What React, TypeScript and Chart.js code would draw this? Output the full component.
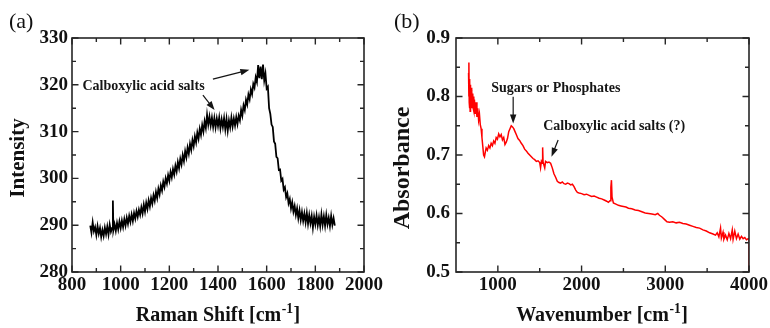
import React, { useEffect, useRef } from "react";
import { Chart, registerables } from "chart.js";

Chart.register(...registerables);

const FONT = "'Liberation Serif', 'Times New Roman', serif";

// ---------- Panel (a): Raman spectrum ----------
const ramanShift = [
  875, 880, 885, 890, 895, 900, 905, 910, 915, 920, 925, 930, 935, 940, 945, 950, 955, 960, 965, 968, 970, 975,
  980, 985, 990, 995, 1000, 1005, 1010, 1015, 1020, 1025, 1030, 1035, 1040, 1045, 1050, 1055, 1060, 1065, 1070,
  1075, 1080, 1085, 1090, 1095, 1100, 1105, 1110, 1115, 1120, 1125, 1130, 1135, 1140, 1145, 1150, 1155, 1160,
  1165, 1170, 1175, 1180, 1185, 1190, 1195, 1200, 1205, 1210, 1215, 1220, 1225, 1230, 1235, 1240, 1245, 1250,
  1255, 1260, 1265, 1270, 1275, 1280, 1285, 1290, 1295, 1300, 1305, 1310, 1315, 1320, 1325, 1330, 1335, 1340,
  1345, 1350, 1355, 1360, 1365, 1370, 1375, 1380, 1385, 1390, 1395, 1400, 1405, 1410, 1415, 1420, 1425, 1430,
  1435, 1440, 1445, 1450, 1455, 1460, 1465, 1470, 1475, 1480, 1485, 1490, 1495, 1500, 1505, 1510, 1515, 1520,
  1525, 1530, 1535, 1540, 1545, 1550, 1555, 1560, 1565, 1570, 1575, 1580, 1585, 1590, 1595, 1600, 1605, 1610,
  1615, 1620, 1625, 1630, 1635, 1640, 1645, 1650, 1655, 1660, 1665, 1670, 1675, 1680, 1685, 1690, 1695, 1700,
  1705, 1710, 1715, 1720, 1725, 1730, 1735, 1740, 1745, 1750, 1755, 1760, 1765, 1770, 1775, 1780, 1785, 1790,
  1795, 1800, 1805, 1810, 1815, 1820, 1825, 1830, 1835, 1840, 1845, 1850, 1855, 1860, 1865, 1870, 1875, 1880,
];
const intensity = [
  289.9, 288.4, 290.6, 288.7, 289.6, 287.9, 289.8, 288.2, 289.4, 287.5, 289.0, 287.7, 289.5, 288.1, 289.7, 288.0,
  290.1, 288.6, 289.4, 295.3, 288.9, 290.2, 288.8, 290.5, 289.1, 290.8, 289.4, 291.0, 289.6, 291.3, 289.9, 291.6,
  290.3, 292.0, 290.7, 292.3, 290.9, 292.6, 291.4, 293.0, 291.8, 293.3, 292.2, 293.8, 292.5, 294.4, 292.9, 294.8,
  293.5, 295.3, 294.0, 295.8, 294.6, 296.4, 295.2, 297.1, 295.8, 297.8, 296.6, 298.5, 297.4, 299.3, 298.2, 300.0,
  298.9, 300.7, 299.5, 301.4, 300.2, 302.0, 300.8, 302.7, 301.5, 303.5, 302.2, 304.2, 303.0, 305.0, 303.7, 305.8,
  304.5, 306.6, 305.3, 307.4, 306.1, 308.2, 306.9, 309.0, 307.7, 309.8, 308.5, 310.6, 309.3, 311.4, 310.0, 312.2,
  310.8, 313.6, 311.5, 313.2, 311.3, 313.0, 311.0, 312.9, 310.9, 312.8, 311.2, 313.0, 310.7, 312.6, 311.0, 312.9,
  310.5, 312.7, 310.2, 312.4, 310.9, 313.0, 311.1, 312.8, 311.3, 313.1, 311.6, 313.4, 312.4, 314.6, 313.4, 315.6,
  314.6, 316.8, 315.8, 317.9, 316.9, 319.0, 318.0, 320.2, 319.4, 321.6, 320.6, 324.2, 321.4, 323.9, 321.2, 324.3,
  320.9, 322.4, 319.2, 319.6, 315.0, 313.8, 311.5, 311.0, 307.9, 307.4, 304.6, 304.3, 301.8, 301.9, 299.5, 299.9,
  297.6, 298.1, 296.0, 296.8, 294.7, 295.6, 293.6, 294.9, 292.9, 294.1, 292.2, 293.6, 291.5, 293.2, 291.1, 292.8,
  290.9, 292.5, 290.6, 292.6, 290.3, 292.2, 290.4, 292.0, 289.5, 291.8, 290.2, 292.1, 290.0, 291.7, 289.8, 292.3,
  290.1, 291.9, 289.9, 292.2, 290.2, 291.6, 289.8, 292.0, 290.1, 291.5, 289.9,
];
const ramanXTicks = [800, 1000, 1200, 1400, 1600, 1800, 2000];
const ramanXMinor = [900, 1100, 1300, 1500, 1700, 1900];
const ramanYTicks = [280, 290, 300, 310, 320, 330];
const ramanYMinor = [285, 295, 305, 315, 325];
const ramanNote = { text: "Calboxylic acid salts", x: 1094, y: 318.9 };
const ramanArrows = [
  { from: [1379, 321.2], to: [1529, 323.2] },
  { from: [1338, 317.8], to: [1386, 314.6] },
];

// ---------- Panel (b): IR absorbance ----------
const wavenumber = [
  650, 653, 655, 658, 660, 663, 666, 669, 672, 675, 680, 685, 690, 695, 700, 705, 710, 715, 720, 730, 740, 750,
  760, 770, 780, 790, 800, 810, 820, 830, 840, 850, 860, 875, 890, 905, 920, 935, 950, 965, 980, 995, 1010, 1025,
  1040, 1055, 1070, 1085, 1100, 1115, 1130, 1145, 1160, 1175, 1190, 1205, 1220, 1240, 1260, 1280, 1300, 1320,
  1340, 1360, 1380, 1400, 1420, 1440, 1460, 1480, 1500, 1510, 1520, 1530, 1535, 1540, 1550, 1560, 1570, 1590,
  1610, 1630, 1650, 1670, 1690, 1710, 1730, 1750, 1770, 1790, 1810, 1830, 1850, 1870, 1890, 1910, 1930, 1950,
  1970, 2000, 2030, 2060, 2090, 2120, 2150, 2180, 2210, 2240, 2270, 2300, 2320, 2340, 2350, 2357, 2364, 2380,
  2410, 2440, 2470, 2500, 2530, 2560, 2600, 2640, 2680, 2720, 2760, 2800, 2840, 2880, 2910, 2930, 2960, 2990,
  3020, 3050, 3090, 3130, 3170, 3210, 3250, 3290, 3330, 3370, 3410, 3450, 3490, 3530, 3570, 3600, 3620, 3640,
  3660, 3670, 3690, 3700, 3720, 3740, 3760, 3780, 3800, 3810, 3830, 3850, 3870, 3890, 3910, 3930, 3950, 3970,
  3990, 4000, 4000,
];
const absorbance = [
  0.84, 0.8, 0.858, 0.79, 0.82, 0.78, 0.83, 0.775, 0.82, 0.79, 0.815, 0.78, 0.81, 0.785, 0.805, 0.78, 0.8, 0.775,
  0.795, 0.77, 0.79, 0.765, 0.78, 0.76, 0.77, 0.752, 0.745, 0.73, 0.715, 0.7, 0.697, 0.705, 0.712, 0.708, 0.716,
  0.712, 0.72, 0.716, 0.724, 0.72, 0.73, 0.727, 0.736, 0.731, 0.735, 0.726, 0.73, 0.718, 0.722, 0.728, 0.74,
  0.745, 0.75, 0.748, 0.745, 0.74, 0.735, 0.728, 0.725, 0.72, 0.716, 0.71, 0.707, 0.703, 0.7, 0.697, 0.694,
  0.692, 0.689, 0.69, 0.687, 0.678, 0.689, 0.686, 0.713, 0.688, 0.688, 0.678, 0.689, 0.687, 0.688, 0.686, 0.678,
  0.668, 0.662, 0.655, 0.653, 0.652, 0.654, 0.651, 0.65, 0.652, 0.651, 0.649, 0.65, 0.646, 0.64, 0.636, 0.635,
  0.634, 0.632, 0.633, 0.631, 0.629, 0.63, 0.628, 0.626, 0.625, 0.623, 0.621, 0.619, 0.622, 0.645, 0.657, 0.628,
  0.618, 0.616, 0.614, 0.613, 0.612, 0.611, 0.609, 0.608, 0.606, 0.605, 0.603, 0.601, 0.6, 0.599, 0.598, 0.6,
  0.597, 0.594, 0.59, 0.586, 0.585, 0.586, 0.584, 0.585, 0.583, 0.582, 0.58, 0.578, 0.576, 0.575, 0.572, 0.57,
  0.567, 0.565, 0.563, 0.567, 0.56, 0.575, 0.558, 0.568, 0.556, 0.563, 0.555, 0.566, 0.557, 0.572, 0.556, 0.57,
  0.557, 0.565, 0.556, 0.561, 0.557, 0.559, 0.555, 0.557, 0.556, 0.5,
];
const irXTicks = [1000, 2000, 3000, 4000];
const irXMinor = [1500, 2500, 3500];
const irYTicks = [0.5, 0.6, 0.7, 0.8, 0.9];
const irYMinor = [0.55, 0.65, 0.75, 0.85];
const irNotes = [
  { text: "Sugars or Phosphates", x: 1692, y: 0.808 },
  { text: "Calboxylic acid salts (?)", x: 2390, y: 0.7427 },
];
const irArrows = [
  { from: [1183, 0.7997], to: [1183, 0.754] },
  { from: [1720, 0.7256], to: [1641, 0.697] },
];

type Panel = {
  xs: number[];
  ys: number[];
  color: string;
  lineWidth: number;
  xMin: number;
  xMax: number;
  yMin: number;
  yMax: number;
  xTicks: number[];
  xMinor: number[];
  yTicks: number[];
  yMinor: number[];
  yFmt: (v: number) => string;
  yAxisWidth: number;
  yPad: number;
  notes: { text: string; x: number; y: number }[];
  arrows: { from: number[]; to: number[] }[];
  panelLabel: string;
  yTitle: string;
  yTitleSize: number;
  yTitlePos: [number, number];
  xTitle: string;
  xTitlePos: [number, number];
};

function drawArrow(ctx: CanvasRenderingContext2D, x1: number, y1: number, x2: number, y2: number) {
  const ang = Math.atan2(y2 - y1, x2 - x1);
  const hl = 9;
  const hw = 3.2;
  ctx.beginPath();
  ctx.moveTo(x1, y1);
  ctx.lineTo(x2 - Math.cos(ang) * hl * 0.8, y2 - Math.sin(ang) * hl * 0.8);
  ctx.stroke();
  ctx.beginPath();
  ctx.moveTo(x2, y2);
  ctx.lineTo(x2 - Math.cos(ang) * hl - Math.sin(ang) * hw, y2 - Math.sin(ang) * hl + Math.cos(ang) * hw);
  ctx.lineTo(x2 - Math.cos(ang) * hl + Math.sin(ang) * hw, y2 - Math.sin(ang) * hl - Math.cos(ang) * hw);
  ctx.closePath();
  ctx.fill();
}

function makePlugin(p: Panel) {
  return {
    id: "frameAndNotes",
    afterDatasetsDraw(chart: any) {
      const { ctx, chartArea: a } = chart;
      const xs = chart.scales.x;
      const ys = chart.scales.y;
      ctx.save();
      ctx.strokeStyle = "#262626";
      ctx.lineWidth = 1.6;
      ctx.strokeRect(a.left, a.top, a.right - a.left, a.bottom - a.top);
      ctx.lineWidth = 1.4;
      const vTicks = (vals: number[], len: number) => {
        vals.forEach((v) => {
          const px = xs.getPixelForValue(v);
          ctx.beginPath();
          ctx.moveTo(px, a.bottom);
          ctx.lineTo(px, a.bottom - len);
          ctx.moveTo(px, a.top);
          ctx.lineTo(px, a.top + len);
          ctx.stroke();
        });
      };
      const hTicks = (vals: number[], len: number) => {
        vals.forEach((v) => {
          const py = ys.getPixelForValue(v);
          ctx.beginPath();
          ctx.moveTo(a.left, py);
          ctx.lineTo(a.left + len, py);
          ctx.moveTo(a.right, py);
          ctx.lineTo(a.right - len, py);
          ctx.stroke();
        });
      };
      vTicks(p.xTicks, 6.5);
      vTicks(p.xMinor, 4);
      hTicks(p.yTicks, 6.5);
      hTicks(p.yMinor, 4);

      // annotations
      ctx.fillStyle = "#151515";
      ctx.strokeStyle = "#151515";
      ctx.font = `bold 14px ${FONT}`;
      ctx.textAlign = "center";
      ctx.textBaseline = "alphabetic";
      p.notes.forEach((n) => {
        ctx.fillText(n.text, xs.getPixelForValue(n.x), ys.getPixelForValue(n.y));
      });
      ctx.lineWidth = 1.2;
      p.arrows.forEach((ar) => {
        drawArrow(
          ctx,
          xs.getPixelForValue(ar.from[0]),
          ys.getPixelForValue(ar.from[1]),
          xs.getPixelForValue(ar.to[0]),
          ys.getPixelForValue(ar.to[1])
        );
      });

      // x title with superscript
      ctx.fillStyle = "#111";
      const size = 20;
      const main = p.xTitle + " [cm";
      const sup = "-1";
      const tail = "]";
      ctx.font = `bold ${size}px ${FONT}`;
      const wMain = ctx.measureText(main).width;
      const wTail = ctx.measureText(tail).width;
      ctx.font = `bold ${size * 0.68}px ${FONT}`;
      const wSup = ctx.measureText(sup).width;
      const total = wMain + wSup + wTail + 1;
      let x0 = p.xTitlePos[0] - total / 2;
      const base = p.xTitlePos[1];
      ctx.textAlign = "left";
      ctx.font = `bold ${size}px ${FONT}`;
      ctx.fillText(main, x0, base);
      ctx.font = `bold ${size * 0.68}px ${FONT}`;
      ctx.fillText(sup, x0 + wMain + 0.5, base - size * 0.42);
      ctx.font = `bold ${size}px ${FONT}`;
      ctx.fillText(tail, x0 + wMain + wSup + 1, base);

      // y title
      ctx.save();
      ctx.translate(p.yTitlePos[0], p.yTitlePos[1]);
      ctx.rotate(-Math.PI / 2);
      ctx.textAlign = "center";
      ctx.textBaseline = "middle";
      ctx.font = `bold ${p.yTitleSize}px ${FONT}`;
      ctx.fillText(p.yTitle, 0, 0);
      ctx.restore();

      // panel label
      ctx.textAlign = "left";
      ctx.textBaseline = "alphabetic";
      ctx.font = `22px ${FONT}`;
      ctx.fillText(p.panelLabel, 9, 28);
      ctx.restore();
    },
  };
}

function makeChart(canvas: HTMLCanvasElement, p: Panel) {
  const tickFont = { family: FONT, size: 19, weight: "bold" as const };
  return new Chart(canvas, {
    type: "line",
    data: {
      datasets: [
        {
          data: p.xs.map((x, i) => ({ x, y: p.ys[i] })),
          borderColor: p.color,
          borderWidth: p.lineWidth,
          pointRadius: 0,
          tension: 0,
          fill: false,
        },
      ],
    },
    options: {
      animation: false,
      responsive: false,
      maintainAspectRatio: false,
      layout: { padding: { left: 0, right: 20, top: 38, bottom: 0 } },
      plugins: { legend: { display: false }, tooltip: { enabled: false } },
      scales: {
        x: {
          type: "linear",
          min: p.xMin,
          max: p.xMax,
          afterBuildTicks: (s: any) => {
            s.ticks = p.xTicks.map((v) => ({ value: v }));
          },
          afterFit: (s: any) => {
            s.height = 56;
          },
          grid: { display: false, drawTicks: false },
          border: { display: false },
          ticks: {
            font: tickFont,
            color: "#111",
            padding: 2,
            maxRotation: 0,
            autoSkip: false,
            callback: (v: any) => String(v),
          },
        },
        y: {
          type: "linear",
          min: p.yMin,
          max: p.yMax,
          afterBuildTicks: (s: any) => {
            s.ticks = p.yTicks.map((v) => ({ value: v }));
          },
          afterFit: (s: any) => {
            s.width = p.yAxisWidth;
          },
          grid: { display: false, drawTicks: false },
          border: { display: false },
          ticks: {
            font: tickFont,
            color: "#111",
            padding: p.yPad,
            autoSkip: false,
            callback: (v: any) => p.yFmt(Number(v)),
          },
        },
      },
    },
    plugins: [makePlugin(p)],
  } as any);
}

const panelA: Panel = {
  xs: ramanShift,
  ys: intensity,
  color: "#000000",
  lineWidth: 1.8,
  xMin: 800,
  xMax: 2000,
  yMin: 280,
  yMax: 330,
  xTicks: ramanXTicks,
  xMinor: ramanXMinor,
  yTicks: ramanYTicks,
  yMinor: ramanYMinor,
  yFmt: (v) => String(v),
  yAxisWidth: 72,
  yPad: 4,
  notes: [ramanNote],
  arrows: ramanArrows,
  panelLabel: "(a)",
  yTitle: "Intensity",
  yTitleSize: 21,
  yTitlePos: [19, 158],
  xTitle: "Raman Shift",
  xTitlePos: [218, 321],
};

const panelB: Panel = {
  xs: wavenumber,
  ys: absorbance,
  color: "#ff0000",
  lineWidth: 1.5,
  xMin: 500,
  xMax: 4000,
  yMin: 0.5,
  yMax: 0.9,
  xTicks: irXTicks,
  xMinor: irXMinor,
  yTicks: irYTicks,
  yMinor: irYMinor,
  yFmt: (v) => v.toFixed(1),
  yAxisWidth: 71,
  yPad: 6,
  notes: irNotes,
  arrows: irArrows,
  panelLabel: "(b)",
  yTitle: "Absorbance",
  yTitleSize: 24,
  yTitlePos: [18, 168],
  xTitle: "Wavenumber",
  xTitlePos: [217, 321],
};

export default function App() {
  const refA = useRef<HTMLCanvasElement>(null);
  const refB = useRef<HTMLCanvasElement>(null);
  useEffect(() => {
    const a = makeChart(refA.current!, panelA);
    const b = makeChart(refB.current!, panelB);
    return () => {
      a.destroy();
      b.destroy();
    };
  }, []);
  return (
    <div style={{ position: "fixed", left: 0, top: 0, width: 770, height: 328, background: "#fff" }}>
      <canvas ref={refA} width={385} height={328} style={{ position: "absolute", left: 0, top: 0, width: 385, height: 328 }} />
      <canvas ref={refB} width={385} height={328} style={{ position: "absolute", left: 385, top: 0, width: 385, height: 328 }} />
    </div>
  );
}
